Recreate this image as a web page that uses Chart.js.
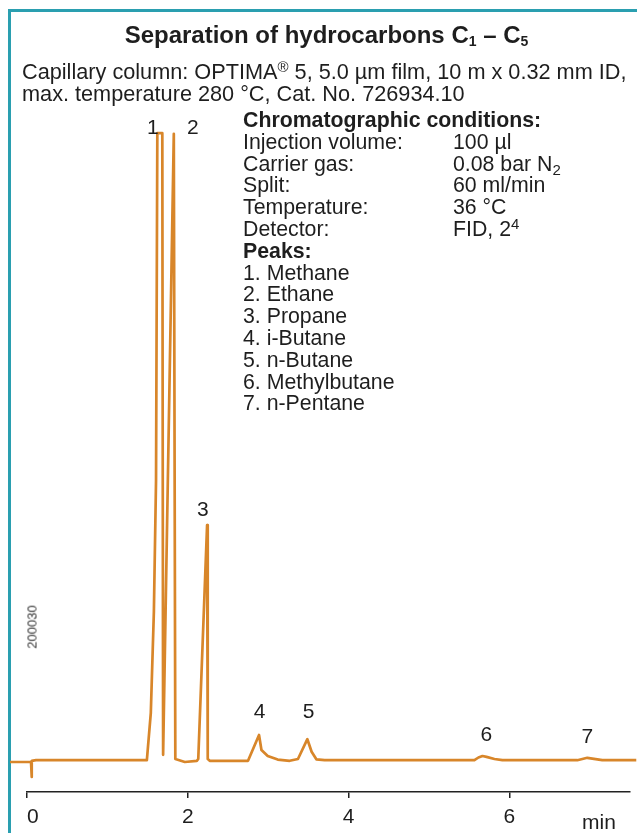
<!DOCTYPE html>
<html>
<head>
<meta charset="utf-8">
<script src="https://cdn.jsdelivr.net/npm/chart.js@4.4.1/dist/chart.umd.min.js"></script>
<style>
  html, body { margin: 0; padding: 0; background: #fff; }
  body { width: 637px; height: 833px; position: relative; overflow: hidden;
         font-family: "Liberation Sans", Arial, Helvetica, sans-serif; color: #1e1e1e; }
  #frame { position: absolute; left: 8px; top: 9px; width: 700px; height: 900px;
           border-left: 3px solid #2a9fb0; border-top: 3px solid #2a9fb0; box-sizing: border-box; }
  #c { position: absolute; left: 0; top: 0; }
  .t { position: absolute; white-space: nowrap; }
  #title { left: 0; width: 653px; text-align: center; top: 21px; font-weight: bold; font-size: 24px; line-height: 28px; }
  #title sub { font-size: 14px; vertical-align: -3px; line-height: 0; }
  #sub { left: 22px; top: 61px; font-size: 21.7px; line-height: 21.5px; }
  #sub sup { font-size: 15px; vertical-align: 7px; line-height: 0; }
  #cond { left: 243px; top: 110px; font-size: 21.3px; line-height: 21.8px; }
  #cond .b { font-weight: bold; }
  #cond .k { display: inline-block; width: 210px; }
  #cond sub { font-size: 15px; vertical-align: -4px; line-height: 0; }
  #cond sup { font-size: 15px; vertical-align: 7px; line-height: 0; }
  #code { left: 32px; top: 627px; font-size: 13px; color: #333; transform: translate(-50%, -50%) rotate(-90deg); }
  #unit { left: 582px; top: 810px; font-size: 21px; line-height: 24px; }
</style>
</head>
<body>
<div id="frame"></div>
<canvas id="c" width="637" height="833"></canvas>
<div class="t" id="title">Separation of hydrocarbons C<sub>1</sub> – C<sub>5</sub></div>
<div class="t" id="sub">Capillary column: OPTIMA<sup>®</sup> 5, 5.0 µm film, 10 m x 0.32 mm ID,<br>max. temperature 280 °C, Cat. No. 726934.10</div>
<div class="t" id="cond">
<div class="b">Chromatographic conditions:</div>
<div><span class="k">Injection volume:</span>100 µl</div>
<div><span class="k">Carrier gas:</span>0.08 bar N<sub>2</sub></div>
<div><span class="k">Split:</span>60 ml/min</div>
<div><span class="k">Temperature:</span>36 °C</div>
<div><span class="k">Detector:</span>FID, 2<sup>4</sup></div>
<div class="b">Peaks:</div>
<div>1. Methane</div>
<div>2. Ethane</div>
<div>3. Propane</div>
<div>4. i-Butane</div>
<div>5. n-Butane</div>
<div>6. Methylbutane</div>
<div>7. n-Pentane</div>
</div>
<div class="t" id="code">200030</div>
<div class="t" id="unit">min</div>
<script>
// Retention time (min) and detector signal (arbitrary units)
const retentionTime = [-0.211, 0.050, 0.056, 0.062, 0.112, 1.491, 1.540, 1.578, 1.605, 1.621,
  1.683, 1.693, 1.697, 1.826, 1.845, 1.963, 2.112, 2.130, 2.240, 2.248,
  2.273, 2.749, 2.886, 2.916, 2.994, 3.118, 3.267, 3.370, 3.487, 3.540,
  3.599, 3.702, 5.565, 5.615, 5.665, 5.715, 5.814, 5.913, 6.845, 6.969,
  7.155, 7.578];
const signal = [5.0, 5.0, 2.5, 5.2, 5.3, 5.3, 13.2, 30.0, 52.0, 109.8,
  109.8, 6.2, 6.2, 109.7, 5.5, 5.0, 5.2, 5.5, 44.5, 5.5,
  5.2, 5.2, 9.5, 7.0, 6.0, 5.4, 5.2, 5.5, 8.8, 6.7,
  5.45, 5.3, 5.3, 5.75, 6.0, 5.85, 5.5, 5.3, 5.3, 5.7,
  5.3, 5.3];
const xTickValues = [0, 2, 4, 6];
const xAxisEnd = 7.5;
const peakNumbers = ['1', '2', '3', '4', '5', '6', '7'];
const peakLabelTime = [1.565, 2.062, 2.186, 2.894, 3.503, 5.714, 6.969];
const peakLabelSignal = [110.7, 110.7, 47.0, 13.3, 13.3, 9.5, 9.2];

const FONT = '"Liberation Sans", Arial, Helvetica, sans-serif';
const points = retentionTime.map((t, i) => ({ x: t, y: signal[i] }));

const peakLabelPlugin = {
  id: 'peakLabels',
  afterDatasetsDraw(chart) {
    const { ctx, scales: { x, y } } = chart;
    ctx.save();
    ctx.font = '21px ' + FONT;
    ctx.fillStyle = '#1e1e1e';
    ctx.textAlign = 'center';
    ctx.textBaseline = 'middle';
    peakNumbers.forEach((n, i) => {
      ctx.fillText(n, x.getPixelForValue(peakLabelTime[i]), y.getPixelForValue(peakLabelSignal[i]));
    });
    ctx.restore();
  }
};

const isTick = (v) => xTickValues.includes(v);

new Chart(document.getElementById('c'), {
  type: 'line',
  data: {
    datasets: [{
      data: points,
      borderColor: '#d8862a',
      borderWidth: 2.7,
      pointRadius: 0,
      tension: 0,
      clip: false,
      borderJoinStyle: 'round'
    }]
  },
  options: {
    responsive: false,
    devicePixelRatio: 1,
    animation: false,
    layout: { padding: { left: 27, right: 6, top: 132, bottom: 0 } },
    plugins: { legend: { display: false }, tooltip: { enabled: false }, title: { display: false } },
    scales: {
      x: {
        type: 'linear',
        min: 0,
        max: xAxisEnd,
        afterBuildTicks: (s) => { s.ticks = xTickValues.concat([xAxisEnd]).map(v => ({ value: v })); },
        afterFit: (s) => { s.height = 41; },
        grid: {
          display: true, drawOnChartArea: false, drawTicks: true, tickLength: 6, lineWidth: 1.5,
          color: (c) => (c.tick && isTick(c.tick.value)) ? '#222' : 'rgba(0,0,0,0)'
        },
        border: { display: true, color: '#222', width: 1.5 },
        ticks: {
          font: { size: 21, family: FONT }, color: '#1e1e1e', padding: 7, maxRotation: 0, autoSkip: false,
          align: 'inner',
          callback: (v) => isTick(v) ? String(v) : ''
        }
      },
      y: { display: false, min: 0, max: 110 }
    }
  },
  plugins: [peakLabelPlugin]
});
</script>
</body>
</html>
